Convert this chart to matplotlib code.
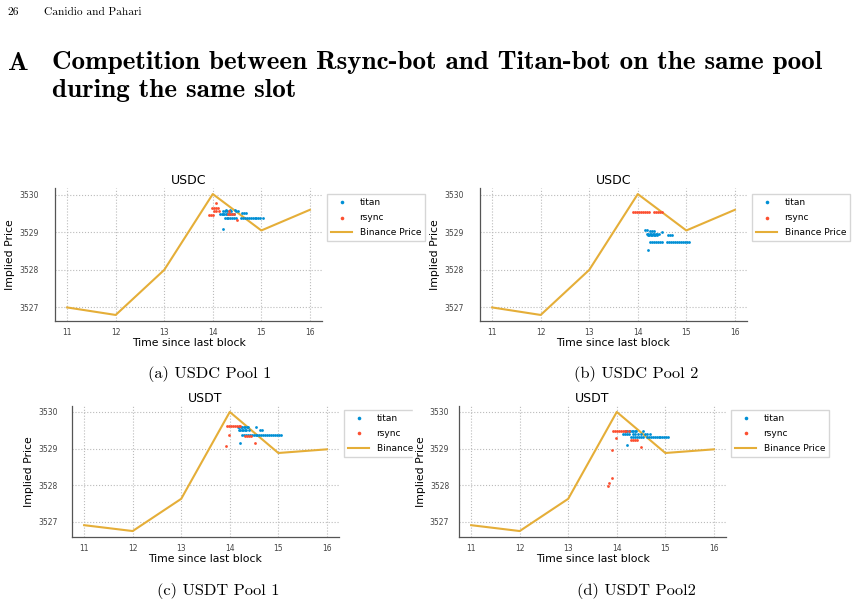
import matplotlib.pyplot as plt
from matplotlib.patches import Rectangle

# binance price per second since last block
secs = [11, 12, 13, 14, 15, 16]
usdc_binance = [3527.0, 3526.8, 3528.0, 3530.02, 3529.05, 3529.6]
usdt_binance = [3526.91, 3526.75, 3527.63, 3530.0, 3528.88, 3528.98]

# (a) USDC pool 1
a_titan_x = [14.15, 14.18, 14.21, 14.24, 14.27, 14.30, 14.33, 14.36, 14.40, 14.43,
             14.22, 14.26, 14.30, 14.34, 14.38, 14.47, 14.52,
             14.28, 14.35, 14.45, 14.61, 14.65, 14.69,
             14.26, 14.29, 14.32, 14.36, 14.40, 14.44, 14.47, 14.58, 14.62, 14.66,
             14.70, 14.74, 14.78, 14.82, 14.86, 14.90, 14.94, 14.98, 15.03, 14.22]
a_titan_y = [3529.50, 3529.50, 3529.50, 3529.50, 3529.50, 3529.50, 3529.50, 3529.50, 3529.50, 3529.50,
             3529.56, 3529.56, 3529.56, 3529.56, 3529.56, 3529.56, 3529.58,
             3529.60, 3529.60, 3529.60, 3529.51, 3529.51, 3529.51,
             3529.38, 3529.38, 3529.38, 3529.38, 3529.38, 3529.38, 3529.38, 3529.38, 3529.38, 3529.38,
             3529.38, 3529.38, 3529.38, 3529.38, 3529.38, 3529.38, 3529.38, 3529.38, 3529.38, 3529.08]
a_rsync_x = [13.99, 14.03, 14.07, 14.11, 14.02, 14.06, 14.13, 13.93, 13.97, 14.01, 14.07,
             14.32, 14.36, 14.40, 14.44, 14.34, 14.50]
a_rsync_y = [3529.65, 3529.65, 3529.65, 3529.65, 3529.58, 3529.58, 3529.58, 3529.46, 3529.46, 3529.46, 3529.79,
             3529.49, 3529.49, 3529.49, 3529.49, 3529.56, 3529.32]

# (b) USDC pool 2
b_titan_x = [14.15, 14.18, 14.26, 14.30, 14.34,
             14.19, 14.22, 14.25, 14.28, 14.31, 14.34, 14.37, 14.40, 14.44, 14.50,
             14.21, 14.24, 14.27, 14.30, 14.33, 14.36, 14.39, 14.62, 14.66, 14.70,
             14.26, 14.30, 14.34, 14.38, 14.42, 14.46, 14.50, 14.61, 14.65, 14.69,
             14.73, 14.77, 14.81, 14.85, 14.89, 14.93, 14.97, 15.01, 15.06, 14.22]
b_titan_y = [3529.05, 3529.05, 3529.03, 3529.03, 3529.03,
             3528.96, 3528.96, 3528.96, 3528.96, 3528.96, 3528.96, 3528.96, 3528.96, 3528.96, 3529.0,
             3528.92, 3528.92, 3528.92, 3528.92, 3528.92, 3528.92, 3528.92, 3528.92, 3528.92, 3528.92,
             3528.75, 3528.75, 3528.75, 3528.75, 3528.75, 3528.75, 3528.75, 3528.75, 3528.75, 3528.75,
             3528.75, 3528.75, 3528.75, 3528.75, 3528.75, 3528.75, 3528.75, 3528.75, 3528.75, 3528.52]
b_rsync_x = [13.91, 13.95, 13.99, 14.03, 14.07, 14.11, 14.15, 14.19, 14.23,
             14.34, 14.38, 14.42, 14.46, 14.50]
b_rsync_y = [3529.54] * 14

# (c) USDT pool 1
c_titan_x = [14.17, 14.20, 14.23, 14.26, 14.29, 14.32, 14.35, 14.38,
             14.19, 14.22, 14.25, 14.28, 14.31, 14.34, 14.40, 14.53,
             14.62, 14.67,
             14.25, 14.29, 14.33, 14.37, 14.41, 14.45, 14.49, 14.53, 14.57, 14.61, 14.65,
             14.69, 14.73, 14.77, 14.81, 14.85, 14.89, 14.93, 14.97, 15.01, 15.06, 14.22]
c_titan_y = [3529.60, 3529.60, 3529.60, 3529.60, 3529.60, 3529.60, 3529.60, 3529.60,
             3529.52, 3529.52, 3529.52, 3529.52, 3529.52, 3529.52, 3529.52, 3529.58,
             3529.50, 3529.50,
             3529.37, 3529.37, 3529.37, 3529.37, 3529.37, 3529.37, 3529.37, 3529.37, 3529.37, 3529.37, 3529.37,
             3529.37, 3529.37, 3529.37, 3529.37, 3529.37, 3529.37, 3529.37, 3529.37, 3529.37, 3529.37, 3529.15]
c_rsync_x = [13.94, 13.98, 14.02, 14.06, 14.10, 14.14, 14.18, 14.21,
             13.99, 13.92, 14.31, 14.35, 14.39, 14.43, 14.51]
c_rsync_y = [3529.61, 3529.61, 3529.61, 3529.61, 3529.61, 3529.61, 3529.61, 3529.61,
             3529.38, 3529.07, 3529.34, 3529.34, 3529.34, 3529.34, 3529.14]

# (d) USDT pool 2
d_titan_x = [14.16, 14.19, 14.22, 14.25, 14.28, 14.31, 14.34, 14.37, 14.40,
             14.13, 14.17, 14.21, 14.25, 14.33, 14.38, 14.44, 14.50, 14.54,
             14.58, 14.63, 14.68,
             14.30, 14.34, 14.38, 14.42, 14.46, 14.50, 14.54, 14.62, 14.66, 14.70,
             14.74, 14.78, 14.82, 14.86, 14.90, 14.94, 14.98, 15.02, 15.06, 14.21]
d_titan_y = [3529.48, 3529.48, 3529.48, 3529.48, 3529.48, 3529.48, 3529.48, 3529.48, 3529.48,
             3529.41, 3529.41, 3529.41, 3529.41, 3529.41, 3529.41, 3529.41, 3529.41, 3529.48,
             3529.41, 3529.41, 3529.41,
             3529.32, 3529.32, 3529.32, 3529.32, 3529.32, 3529.32, 3529.32, 3529.32, 3529.32, 3529.32,
             3529.32, 3529.32, 3529.32, 3529.32, 3529.32, 3529.32, 3529.32, 3529.32, 3529.32, 3529.10]
d_rsync_x = [13.92, 13.96, 14.00, 14.04, 14.08, 14.12, 14.16, 14.20, 14.26,
             13.98, 13.91, 13.90, 13.85, 13.81, 14.29, 14.33, 14.37, 14.41, 14.49]
d_rsync_y = [3529.48, 3529.48, 3529.48, 3529.48, 3529.48, 3529.48, 3529.48, 3529.48, 3529.48,
             3529.28, 3528.96, 3528.19, 3528.07, 3527.98, 3529.24, 3529.24, 3529.24, 3529.24, 3529.03]

BLUE, RED, GOLD = '#008fd5', '#fc4f30', '#e5ae38'
W, H = 856, 608

fig = plt.figure(figsize=(W / 100, H / 100), dpi=100)


def box(l, t, r, b):
    return [l / W, 1 - b / H, (r - l) / W, (b - t) / H]


# rect, title, line, titan, rsync, legend top, ytick pad, zorder
panels = [
    (box(55, 188, 322, 321), 'USDC', usdc_binance, a_titan_x, a_titan_y, a_rsync_x, a_rsync_y, 0.955, 11.5, 1),
    (box(480, 188, 747, 321), 'USDC', usdc_binance, b_titan_x, b_titan_y, b_rsync_x, b_rsync_y, 0.955, 11.5, 1),
    (box(72, 406, 339, 537), 'USDT', usdt_binance, c_titan_x, c_titan_y, c_rsync_x, c_rsync_y, 0.97, 10.5, 1),
    (box(459, 406, 726, 537), 'USDT', usdt_binance, d_titan_x, d_titan_y, d_rsync_x, d_rsync_y, 0.97, 7, 3),
]

for rect, title, binance, tx, ty, rx, ry, leg_top, ypad, z in panels:
    ax = fig.add_axes(rect, zorder=z)
    ax.scatter(tx, ty, s=4, color=BLUE, label='titan', zorder=3, linewidths=0)
    ax.scatter(rx, ry, s=4, color=RED, label='rsync', zorder=3, linewidths=0)
    ax.plot(secs, binance, color=GOLD, lw=1.5, label='Binance Price', zorder=2)
    ax.set_title(title, fontsize=9, pad=3)
    ax.set_xlabel('Time since last block', fontsize=7.8, labelpad=1)
    ax.set_ylabel('Implied Price', fontsize=7.8, labelpad=3)
    ax.set_xticks(secs)
    ax.set_yticks([3527, 3528, 3529, 3530])
    ax.tick_params(axis='both', length=0, labelsize=5.5, colors='#444444')
    ax.tick_params(axis='y', pad=ypad)
    ax.tick_params(axis='x', pad=5)
    ax.grid(True, ls=':', color='#bbbbbb', lw=0.8)
    for s in ['top', 'right']:
        ax.spines[s].set_visible(False)
    for s in ['left', 'bottom']:
        ax.spines[s].set_color('#555555')
        ax.spines[s].set_linewidth(0.9)
    ax.legend(loc='upper left', bbox_to_anchor=(1.019, leg_top), fontsize=6.5,
              frameon=True, fancybox=False, edgecolor='#cccccc', handlelength=2.4,
              borderaxespad=0, markerscale=1.3, labelspacing=0.7)

# panel (c) legend is cut off by panel (d) in the page
fig.patches.append(Rectangle((413 / W, 1 - 466 / H), 45 / W, 66 / H, transform=fig.transFigure,
                             color='white', zorder=2))

fig.text(7 / W, 1 - 12 / H, '26', fontsize=8.2, family='cmr10', va='center')
fig.text(44 / W, 1 - 12 / H, 'Canidio and Pahari', fontsize=8.2, family='cmr10', va='center')
fig.text(8 / W, 1 - 63 / H, 'A', fontsize=19.5, family='cmb10', va='center')
fig.text(52 / W, 1 - 63 / H, 'Competition between Rsync-bot and Titan-bot on the same pool',
         fontsize=19.5, family='cmb10', va='center')
fig.text(52 / W, 1 - 91 / H, 'during the same slot', fontsize=19.5, family='cmb10', va='center')

fig.text(210 / W, 1 - 374 / H, '(a) USDC Pool 1', fontsize=11.8, family='cmr10', ha='center', va='center')
fig.text(636 / W, 1 - 374 / H, '(b) USDC Pool 2', fontsize=11.8, family='cmr10', ha='center', va='center')
fig.text(218 / W, 1 - 591 / H, '(c) USDT Pool 1', fontsize=11.8, family='cmr10', ha='center', va='center')
fig.text(636 / W, 1 - 591 / H, '(d) USDT Pool2', fontsize=11.8, family='cmr10', ha='center', va='center')

fig.savefig('out.png', dpi=100)
